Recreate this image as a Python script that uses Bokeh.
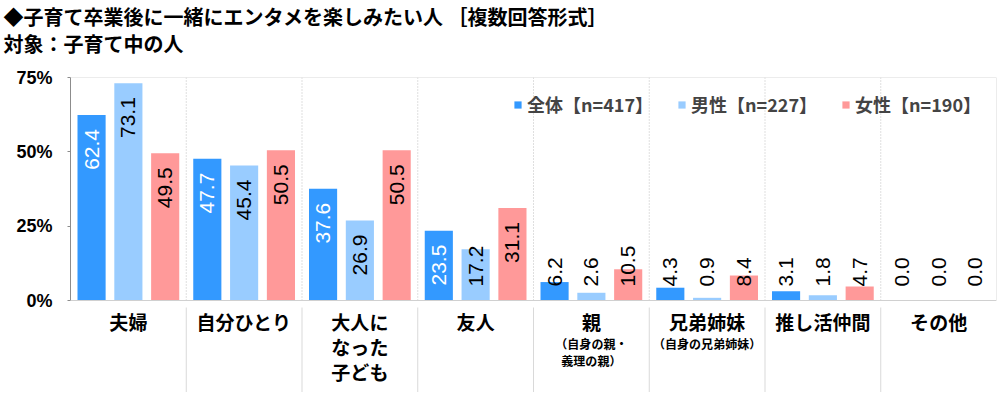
import math
from bokeh.plotting import figure
from bokeh.models import (FactorRange, Range1d, FixedTicker, Legend, LegendItem, Title,
                          Span, ColumnDataSource)
from bokeh.transform import dodge
from bokeh.core.properties import value, field
from bokeh.embed import file_html
from bokeh.resources import INLINE

# ---------------- data ----------------
categories = ["夫婦", "自分ひとり", "大人になった子ども", "友人", "親", "兄弟姉妹", "推し活仲間", "その他"]
main_lines = [["夫婦"], ["自分ひとり"], ["大人に", "なった", "子ども"], ["友人"], ["親"],
              ["兄弟姉妹"], ["推し活仲間"], ["その他"]]
sub_lines = [[], [], [], [], ["（自身の親・", "義理の親）"], ["（自身の兄弟姉妹）"], [], []]
series_names = ["全体【n=417】", "男性【n=227】", "女性【n=190】"]
total = [62.4, 47.7, 37.6, 23.5, 6.2, 4.3, 3.1, 0.0]
male = [73.1, 45.4, 26.9, 17.2, 2.6, 0.9, 1.8, 0.0]
female = [49.5, 50.5, 50.5, 31.1, 10.5, 8.4, 4.7, 0.0]
y_ticks = [0, 25, 50, 75]
y_tick_labels = ["0%", "25%", "50%", "75%"]
title1 = "◆子育て卒業後に一緒にエンタメを楽しみたい人 ［複数回答形式］"
title2 = "対象：子育て中の人"

# ---------------- style / layout ----------------
colors = ["#3399FF", "#99CCFF", "#FF9999"]
JP = "Noto Sans CJK JP"
NUM = "Liberation Sans"
W, H = 998, 392
FL, FR, FT = 70, 2, 77          # frame left / right border, frame top (page px)
AXIS_Y = 300                     # page y of value 0
YMAX = 75
D = YMAX / (AXIS_Y - FT)         # data units per pixel
YMIN = -(H - AXIS_Y) * D         # frame runs down to canvas bottom (labels live there)
LABEL_FS = 21

p = figure(width=W, height=H, title=None, x_range=FactorRange(*categories),
           y_range=Range1d(YMIN, YMAX), output_backend="svg", toolbar_location=None,
           x_axis_location=None, min_border_left=FL, min_border_right=FR,
           min_border_top=FT, min_border_bottom=0)
p.outline_line_color = None
p.background_fill_color = "white"
p.border_fill_color = "white"
for g in p.grid:
    g.visible = False

# titles (stacked outward from the plot area: spacer, line 2, line 1)
title_kw = dict(align="left", offset=-67, text_font=JP, text_font_style="bold",
                text_font_size="20px", text_color="black")
p.add_layout(Title(text=" ", standoff=-11, **title_kw), "above")
p.add_layout(Title(text=title2, standoff=0, **title_kw), "above")
p.add_layout(Title(text=title1, standoff=-8, **title_kw), "above")

# y axis
yax = p.yaxis[0]
yax.bounds = (0, YMAX)
yax.ticker = FixedTicker(ticks=y_ticks)
yax.major_label_overrides = {t: l for t, l in zip(y_ticks, y_tick_labels)}
yax.major_label_text_font = NUM
yax.major_label_text_font_style = "bold"
yax.major_label_text_font_size = "18px"
yax.major_label_text_color = "black"
yax.axis_line_color = "#8C8C8C"
yax.major_tick_line_color = "#8C8C8C"
yax.major_tick_in = 0
yax.major_tick_out = 3
yax.minor_tick_line_color = None
yax.major_label_standoff = 15

# plot-area border lines (category axis line at 0, top border at 75)
p.add_layout(Span(location=0, dimension="width", line_color="#D0D0D0", line_width=1))
p.add_layout(Span(location=YMAX, dimension="width", line_color="#D9D9D9", line_width=1))

# category separators at each category's right boundary
sep_src = ColumnDataSource(dict(cat=categories[:-1]))
p.segment(x0=dodge("cat", 0.5, range=p.x_range), y0=0,
          x1=dodge("cat", 0.5, range=p.x_range), y1=YMAX, source=sep_src,
          line_color="#BFBFBF", line_dash="1 2", line_width=1)
p.segment(x0=dodge("cat", 0.5, range=p.x_range), y0=-7 * D,
          x1=dodge("cat", 0.5, range=p.x_range), y1=YMIN, source=sep_src,
          line_color="#D9D9D9", line_width=1)
end_src = ColumnDataSource(dict(cat=categories[-1:]))
p.segment(x0=dodge("cat", 0.5, range=p.x_range), y0=0,
          x1=dodge("cat", 0.5, range=p.x_range), y1=YMAX, source=end_src,
          line_color="#D9D9D9", line_width=1)

# bars
src = ColumnDataSource(dict(cat=categories, total=total, male=male, female=female))
keys = ["total", "male", "female"]
offsets = [-0.318, 0.0, 0.318]
bar_w = 0.243
renderers = []
for k, off, c in zip(keys, offsets, colors):
    r = p.vbar(x=dodge("cat", off, range=p.x_range), top=k, bottom=0, width=bar_w,
               source=src, fill_color=c, line_color=None)
    renderers.append(r)

# value labels (rotated)
def text_len(s):
    return sum(0.278 if ch == "." else 0.556 for ch in s) * LABEL_FS * D

gap = 14 * D
for si, (k, off) in enumerate(zip(keys, offsets)):
    vals = src.data[k]
    ly, lt, lc = [], [], []
    for v in vals:
        s = f"{v:.1f}"
        L = text_len(s)
        end = v - gap
        start = end - L
        if start < gap:
            start = gap
            end = gap + L
        ly.append((start + end) / 2)
        lt.append(s)
        lc.append("white" if (si == 0 and end <= v) else "black")
    lsrc = ColumnDataSource(dict(cat=categories, ly=ly, lt=lt, lc=lc))
    p.text(x=dodge("cat", off, range=p.x_range), y="ly", text="lt", angle=math.pi / 2,
           text_align="center", text_baseline="middle", text_color=field("lc"),
           text_font=value(NUM), text_font_size=f"{LABEL_FS}px", source=lsrc)

# category labels below the axis line
mc, my, mt = [], [], []
for c, lines in zip(categories, main_lines):
    for j, t in enumerate(lines):
        mc.append(c); my.append(-(21 + 25 * j) * D); mt.append(t)
sc, sy, st = [], [], []
for c, lines in zip(categories, sub_lines):
    for j, t in enumerate(lines):
        sc.append(c); sy.append(-(43 + 17 * j) * D); st.append(t)
p.text(x="cat", y="y", text="text", source=ColumnDataSource(dict(cat=mc, y=my, text=mt)),
       text_align="center", text_baseline="middle", text_font=value(JP),
       text_font_style="bold", text_font_size="19px", text_color="black")
p.text(x="cat", y="y", text="text", source=ColumnDataSource(dict(cat=sc, y=sy, text=st)),
       text_align="center", text_baseline="middle", text_font=value(JP),
       text_font_style="bold", text_font_size="12px", text_color="black")

# legend
legend = Legend(items=[LegendItem(label=n, renderers=[r]) for n, r in zip(series_names, renderers)],
                orientation="horizontal", location=(443, H - FT - 40),
                glyph_width=9, glyph_height=9, label_standoff=5, spacing=24,
                padding=0, margin=0, border_line_color=None, background_fill_alpha=0,
                label_text_font=JP, label_text_font_style="bold",
                label_text_font_size="18px", label_height=20)
p.add_layout(legend)

open("out.html", "w").write(file_html(p, INLINE))
